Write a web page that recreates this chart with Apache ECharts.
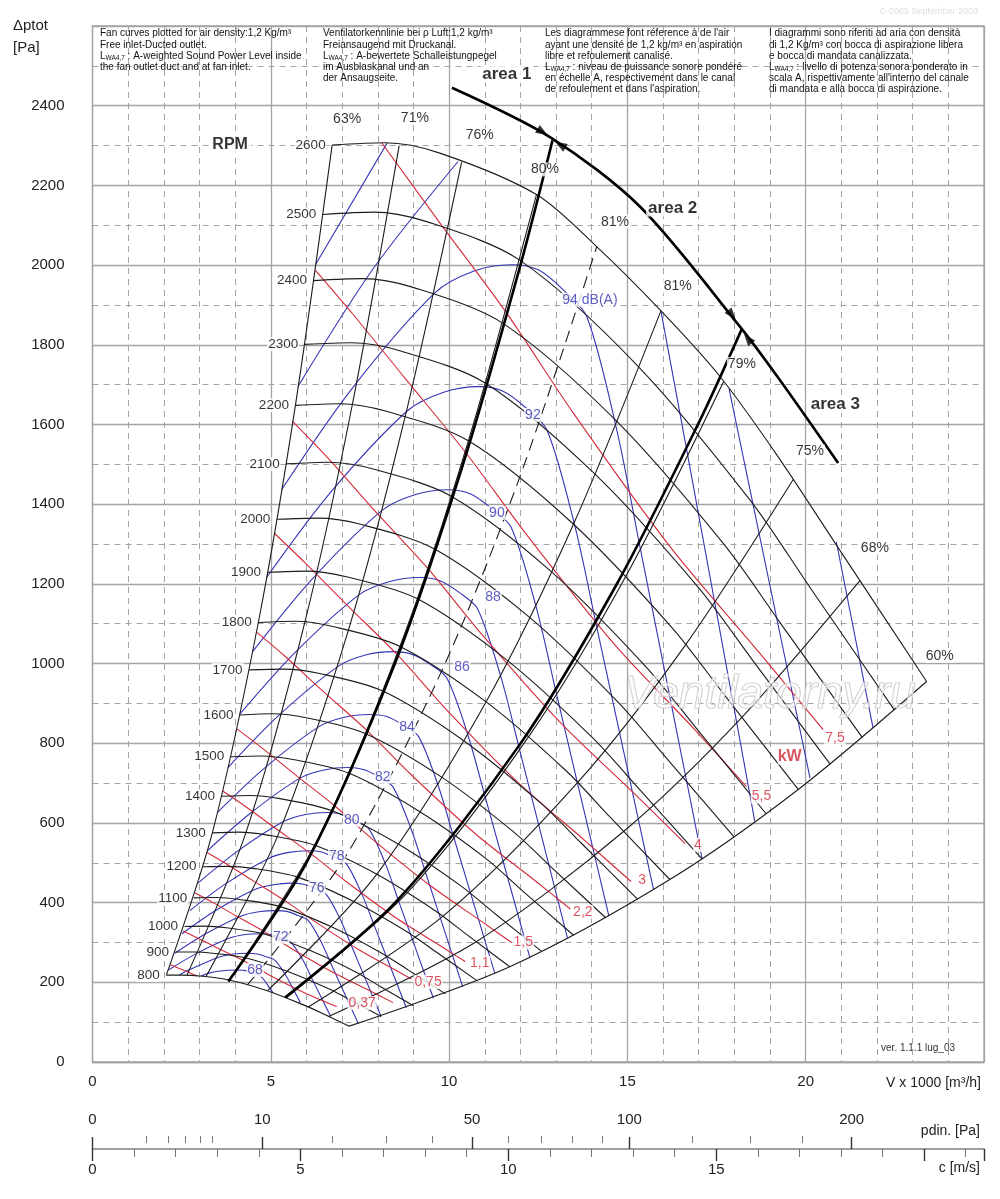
<!DOCTYPE html>
<html><head><meta charset="utf-8">
<script src="https://cdn.jsdelivr.net/npm/echarts@6.0.0/dist/echarts.min.js"></script>
<style>html,body{margin:0;padding:0;background:#fff}#c{width:1000px;height:1199px}</style>
</head><body><div id="c"></div>
<script>
// ---------- axis tick data ----------
const xMax = 25, yMax = 2600;
const cMax = 21.44;                       // c [m/s] at V = 25000 m3/h
const pdinMajor = [0, 10, 50, 100, 200];
const pdinMinor = [1, 2, 3, 4, 5, 20, 30, 40, 60, 70, 80, 90, 125, 150, 175];

// ---------- fan curves (RPM) ----------
const rpmLabels = [800,900,1000,1100,1200,1300,1400,1500,1600,1700,1800,1900,2000,2100,2200,2300,2400,2500,2600];
const rpmCurves = [
 [[2.07,218],[2.52,218],[3.00,216],[3.83,206],[4.90,179],[5.90,144],[6.45,122],[7.20,90]],
 [[2.33,276],[2.84,276],[3.37,273],[4.31,261],[5.51,226],[6.64,183],[7.26,154],[8.10,114]],
 [[2.58,340],[3.15,341],[3.75,337],[4.79,322],[6.12,279],[7.38,226],[8.06,190],[9.00,141]],
 [[2.84,412],[3.47,413],[4.12,408],[5.27,390],[6.73,338],[8.11,273],[8.87,230],[9.90,171]],
 [[3.10,490],[3.78,491],[4.50,486],[5.75,464],[7.34,402],[8.85,325],[9.67,274],[10.80,203]],
 [[3.36,575],[4.10,577],[4.87,570],[6.23,544],[7.96,472],[9.59,381],[10.48,321],[11.70,239]],
 [[3.62,667],[4.42,669],[5.25,661],[6.70,631],[8.57,547],[10.33,442],[11.29,372],[12.60,277]],
 [[3.88,766],[4.73,768],[5.62,759],[7.18,725],[9.18,628],[11.07,508],[12.09,427],[13.49,318]],
 [[4.14,871],[5.05,874],[5.99,864],[7.66,824],[9.79,715],[11.80,578],[12.90,486],[14.39,362]],
 [[4.39,984],[5.36,986],[6.37,975],[8.14,931],[10.40,807],[12.54,652],[13.71,549],[15.29,408]],
 [[4.65,1103],[5.68,1106],[6.74,1093],[8.62,1043],[11.02,905],[13.28,731],[14.51,615],[16.19,458]],
 [[4.91,1229],[5.99,1232],[7.12,1218],[9.10,1163],[11.63,1008],[14.02,814],[15.32,686],[17.09,510]],
 [[5.17,1362],[6.31,1365],[7.49,1350],[9.58,1288],[12.24,1117],[14.75,902],[16.12,760],[17.99,565]],
 [[5.43,1501],[6.62,1505],[7.87,1488],[10.06,1420],[12.85,1232],[15.49,995],[16.93,838],[18.89,623]],
 [[5.69,1648],[6.94,1652],[8.24,1633],[10.54,1559],[13.46,1352],[16.23,1092],[17.74,919],[19.79,684]],
 [[5.95,1801],[7.25,1805],[8.62,1785],[11.01,1704],[14.07,1477],[16.97,1193],[18.54,1005],[20.69,747]],
 [[6.20,1961],[7.57,1966],[8.99,1944],[11.49,1855],[14.69,1609],[17.71,1299],[19.35,1094],[21.59,814]],
 [[6.46,2127],[7.89,2133],[9.37,2109],[11.97,2013],[15.30,1746],[18.44,1410],[20.15,1187],[22.49,883]],
 [[6.72,2301],[8.20,2307],[9.74,2281],[12.45,2177],[14.13,2047],[15.91,1888],[17.59,1721],[19.18,1525],[20.96,1284],[23.39,955]]
];

// ---------- efficiency lines ----------
const effLabels = ['63%','71%','76%','80%','81%','81%','79%','75%','68%','60%'];
const effLabelPos = [[7.14,2365],[9.04,2370],[10.86,2327],[12.69,2240],[14.65,2109],[16.41,1946],[18.21,1752],[20.12,1532],[21.94,1290],[23.76,1019]];
const effCurves = [
 [[2.07,218],[3.36,575],[4.65,1103],[5.69,1648],[6.72,2301]],
 [[2.65,218],[4.30,575],[5.95,1102],[7.28,1647],[8.60,2300]],
 [[3.18,214],[5.18,565],[7.17,1082],[8.76,1617],[10.35,2258]],
 [[3.83,206],[6.23,544],[8.62,1043],[10.54,1559],[12.45,2177]],
 [[4.35,194],[7.07,512],[9.79,981],[11.97,1465],[14.14,2046]],
 [[4.91,179],[7.97,471],[11.04,904],[13.49,1350],[15.94,1885]],
 [[5.45,162],[8.85,427],[12.25,819],[14.98,1223],[17.70,1708]],
 [[6.05,138],[9.83,366],[13.60,701],[16.63,1047],[19.65,1462]],
 [[6.62,114],[10.76,302],[14.90,579],[18.21,865],[21.52,1208]],
 [[7.20,90],[11.70,239],[16.19,458],[19.79,684],[23.39,955]]
];
const effDashed = [false,false,false,false,true,false,false,false,false,false];

// ---------- operating areas ----------
const area1Line = [[3.81,202],[6.00,500],[8.48,1000],[10.39,1500],[12.00,2000],[12.90,2313]];
const area23Line = [[5.40,162],[8.50,401],[12.00,799],[14.70,1199],[17.00,1604],[18.20,1838]];
const areaArc = [[10.08,2445],[12.85,2320],[15.35,2147],[18.15,1846],[19.27,1712],[20.91,1503]];
const areaArrows = [[12.62,2334,-121],[13.12,2302,59],[17.93,1875,-141],[18.38,1815,39]];
const areaLabels = [[11.62,2478,'area 1'],[16.27,2143,'area 2'],[20.83,1650,'area 3']];

// ---------- sound power level LwA (blue) ----------
const dbSegments = [
 [[20.86,1305],[21.89,838]],
 [[6.26,2002],[8.26,2306]],
 [[17.85,1690],[18.71,1319],[20.12,713]],
 [[5.76,1695],[7.88,1992],[10.25,2260]],
 [[15.94,1885],[16.68,1528],[18.57,605]],
 [[5.30,1436],[7.25,1687],[9.60,1930],[10.70,1985],[11.76,2001],[12.50,1988],[13.20,1938],[13.86,1871],[14.70,1587],[15.35,1294],[17.09,512]],
 [[4.88,1216],[6.67,1429],[8.84,1635],[9.85,1681],[10.82,1695],[11.50,1684],[12.15,1642],[12.75,1585],[13.53,1344],[14.13,1096],[15.73,434]],
 [[4.49,1030],[6.14,1210],[8.13,1385],[9.06,1424],[9.96,1436],[10.59,1426],[11.18,1390],[11.74,1342],[12.45,1139],[13.00,928],[14.48,367]],
 [[4.13,873],[5.65,1025],[7.48,1173],[8.34,1206],[9.17,1216],[9.74,1208],[10.29,1178],[10.80,1137],[11.46,964],[11.97,786],[13.32,311]],
 [[3.80,739],[5.20,868],[6.89,993],[7.68,1022],[8.44,1030],[8.97,1023],[9.47,998],[9.94,963],[10.54,817],[11.01,666],[12.26,264]],
 [[3.50,626],[4.79,735],[6.34,841],[7.06,865],[7.76,872],[8.25,867],[8.72,845],[9.15,816],[9.70,692],[10.13,564],[11.28,223]],
 [[3.22,530],[4.41,623],[5.83,713],[6.50,733],[7.15,739],[7.60,734],[8.02,716],[8.42,691],[8.93,586],[9.33,478],[10.38,189]],
 [[2.96,449],[4.05,528],[5.37,604],[5.98,621],[6.58,626],[6.99,622],[7.38,606],[7.75,585],[8.22,496],[8.58,405],[9.56,160]],
 [[2.73,380],[3.73,447],[4.94,511],[5.51,526],[6.05,530],[6.43,527],[6.79,513],[7.13,496],[7.56,420],[7.90,343],[8.80,136]],
 [[2.51,322],[3.43,379],[4.55,433],[5.07,445],[5.57,449],[5.92,446],[6.25,435],[6.56,420],[6.96,356],[7.27,290],[8.09,115]],
 [[2.31,273],[3.16,321],[4.19,367],[4.66,377],[5.13,380],[5.45,378],[5.75,368],[6.04,356],[6.41,302],[6.69,246],[7.45,97]],
 [[2.13,231],[2.91,272],[3.85,311],[4.29,320],[4.72,322],[5.01,320],[5.30,312],[5.56,301],[5.90,256],[6.16,208],[6.68,114]],
 [[2.43,218],[2.68,230],[3.54,263],[3.95,271],[4.34,273],[4.62,271],[4.87,264],[5.12,255],[5.43,216],[5.67,176],[5.83,149]],
 [[3.04,215],[3.26,223],[3.64,229],[4.00,231],[4.25,230],[4.49,224],[4.71,216],[4.99,183],[5.06,174]]
];
const dbLabels = ['94 dB(A)','92','90','88','86','84','82','80','78','76','72','68'];
const dbLabelPos = [[13.95,1913],[12.35,1624],[11.34,1378],[11.23,1167],[10.36,992],[8.82,841],[8.14,716],[7.27,608],[6.85,517],[6.29,437],[5.28,314],[4.56,231]];

// ---------- shaft power (red) ----------
const kwCurves = [
 [[8.11,2307],[9.74,2106],[11.61,1880],[13.48,1629],[16.19,1294],[18.71,1026],[20.49,834]],
 [[6.24,1988],[7.31,1876],[8.79,1713],[10.47,1529],[12.16,1325],[14.60,1052],[16.88,835],[18.34,691]],
 [[5.61,1608],[6.58,1518],[7.90,1385],[9.42,1237],[10.93,1072],[13.13,851],[15.18,675],[16.62,548]],
 [[5.10,1327],[5.97,1252],[7.18,1143],[8.56,1021],[9.93,884],[11.93,702],[13.79,557],[15.10,453]],
 [[4.60,1079],[5.39,1019],[6.47,930],[7.72,830],[8.96,719],[10.76,571],[12.44,453],[13.40,384]],
 [[4.05,836],[4.74,789],[5.70,720],[6.79,643],[7.88,557],[9.47,443],[10.94,351],[11.75,300]],
 [[3.65,680],[4.28,642],[5.14,586],[6.12,523],[7.11,453],[8.54,360],[9.87,285],[10.45,252]],
 [[3.21,526],[3.76,497],[4.52,454],[5.39,405],[6.26,351],[7.52,279],[8.69,221],[8.95,208]],
 [[2.88,424],[3.38,400],[4.06,365],[4.84,326],[5.61,283],[6.74,225],[7.79,178],[8.43,149]],
 [[2.54,329],[2.97,310],[3.57,283],[4.26,253],[4.94,219],[5.94,174],[6.85,139]],
 [[2.19,244],[2.56,230],[2.94,216]]
];
const kwLabels = ['7,5','5,5','4','3','2,2','1,5','1,1','0,75','0,37'];
const kwLabelPos = [[20.82,813],[18.76,666],[16.98,545],[15.41,457],[13.75,377],[12.08,300],[10.86,249],[9.41,201],[7.56,148]];

// ---------- build ----------
const FONT = '"Liberation Sans", Arial, Helvetica, sans-serif';
const BLACK = '#1c1c1c', BLUE = '#3535b4', RED = '#d42a3a', GRID = '#a4a4a4';

function lineS(data, color, width, z, extra) {
  return Object.assign({
    type: 'line', data: data, symbol: 'none', showSymbol: false,
    smooth: 0.3, silent: true, animation: false, z: z,
    lineStyle: { color: color, width: width }
  }, extra || {});
}
function textS(items, style, z) {
  return {
    type: 'scatter', silent: true, animation: false, z: z || 20,
    symbol: 'circle', symbolSize: 1, itemStyle: { color: 'rgba(0,0,0,0)' },
    data: items.map(d => ({ value: [d[0], d[1]], name: d[2] })),
    label: Object.assign({ show: true, position: 'inside', formatter: p => p.name, fontFamily: FONT }, style)
  };
}

const series = [];
dbSegments.forEach(s => series.push(lineS(s, BLUE, 1.1, 3)));
kwCurves.forEach(s => series.push(lineS(s, RED, 1.1, 4)));
rpmCurves.forEach(s => series.push(lineS(s, BLACK, 1.1, 5)));
effCurves.forEach((s, i) => series.push(lineS(s, BLACK, 1.1, 5,
  effDashed[i] ? { lineStyle: { color: BLACK, width: 1.1, type: [12, 7] } } : {})));
series.push(lineS(area1Line, '#000', 2.6, 6));
series.push(lineS(area23Line, '#000', 2.6, 6));
series.push(lineS(areaArc, '#000', 2.6, 6));
series.push({
  type: 'scatter', silent: true, animation: false, z: 7, symbol: 'triangle',
  data: areaArrows.map(a => ({ value: [a[0], a[1]], symbolRotate: a[2] })),
  symbolSize: [9, 12], itemStyle: { color: '#000' }
});

// labels
series.push(textS(rpmCurves.map((c, i) => [c[0][0], c[0][1], String(rpmLabels[i])]),
  { position: 'left', distance: 5, fontSize: 13.5, color: '#000', backgroundColor: '#fff', padding: [0, 1] }));
series.push(textS(effLabelPos.map((p, i) => [p[0], p[1], effLabels[i]]),
  { fontSize: 14, color: '#000', backgroundColor: '#fff', padding: [0, 1] }));
series.push(textS(dbLabelPos.map((p, i) => [p[0], p[1], dbLabels[i]]),
  { fontSize: 14, color: BLUE, backgroundColor: '#fff', padding: [0, 1] }));
series.push(textS(kwLabelPos.map((p, i) => [p[0], p[1], kwLabels[i]]),
  { fontSize: 14, color: RED, backgroundColor: '#fff', padding: [0, 1] }));
series.push(textS([[19.55, 766, 'kW']], { fontSize: 16, fontWeight: 'bold', color: RED, backgroundColor: '#fff' }));
series.push(textS([[3.86, 2302, 'RPM']], { fontSize: 16, fontWeight: 'bold', color: '#000', backgroundColor: '#fff', padding: [0, 3] }));
series.push(textS(areaLabels, { fontSize: 17, fontWeight: 'bold', color: '#000', backgroundColor: '#fff', padding: [0, 2] }));

const cPos = p => Math.sqrt(2 * p / 1.2);
const axisTxt = { fontFamily: FONT, fontSize: 15, color: '#222' };

const topTextRich = {
  t: { fontSize: 10, fontFamily: FONT, fill: '#111', lineHeight: 11.2 },
  s: { fontSize: 6.5, fontFamily: FONT, fill: '#111', lineHeight: 11.2, verticalAlign: 'bottom' }
};
function block(x, lines) {
  return { type: 'text', x: x, y: 28, z: 50, silent: true,
    style: { text: lines.join('\n'), rich: topTextRich, align: 'left', verticalAlign: 'top', fontSize: 10, fontFamily: FONT, fill: '#111', lineHeight: 11.2 } };
}
const L = '{t|L}{s|WA4,7}';

const option = {
  animation: false,
  backgroundColor: '#fff',
  grid: [
    { left: 92.5, right: 16, top: 26, bottom: 137, show: true, borderColor: GRID, borderWidth: 1.3 },
    { left: 92.5, right: 16, top: 1143, height: 6 }
  ],
  xAxis: [
    { type: 'value', gridIndex: 0, min: 0, max: xMax, interval: 5,
      axisLine: { show: true, lineStyle: { color: GRID, width: 1.3 } }, axisTick: { show: false },
      axisLabel: Object.assign({ margin: 12, formatter: v => v >= xMax ? '' : String(v) }, axisTxt),
      splitLine: { show: true, lineStyle: { color: GRID, width: 1.3 } },
      minorTick: { show: false, splitNumber: 5 },
      minorSplitLine: { show: true, lineStyle: { color: GRID, width: 1, type: [6, 5] } } },
    { type: 'value', gridIndex: 1, position: 'top', min: 0, max: cMax,
      axisLine: { show: true, lineStyle: { color: '#999', width: 1.5 } },
      axisTick: { show: true, customValues: pdinMajor.map(cPos), length: 12, lineStyle: { color: '#333', width: 1.4 } },
      axisLabel: Object.assign({ margin: 16, customValues: pdinMajor.map(cPos), formatter: v => String(Math.round(0.6 * v * v)) }, axisTxt),
      splitLine: { show: false } },
    { type: 'value', gridIndex: 1, position: 'top', min: 0, max: cMax,
      axisLine: { show: false },
      axisTick: { show: true, customValues: pdinMinor.map(cPos), length: 7, lineStyle: { color: '#777', width: 1 } },
      axisLabel: { show: false }, splitLine: { show: false } },
    { type: 'value', gridIndex: 1, position: 'bottom', min: 0, max: cMax, interval: 5,
      axisLine: { show: true, lineStyle: { color: '#999', width: 1.5 } },
      axisTick: { show: true, length: 12, lineStyle: { color: '#333', width: 1.4 } },
      minorTick: { show: true, splitNumber: 5, length: 8, lineStyle: { color: '#777', width: 1 } },
      axisLabel: Object.assign({ margin: 13, formatter: v => v >= 20 ? '' : String(v) }, axisTxt),
      splitLine: { show: false } }
  ],
  yAxis: [
    { type: 'value', gridIndex: 0, min: 0, max: yMax, interval: 200,
      axisLine: { show: false }, axisTick: { show: false },
      axisLabel: Object.assign({ margin: 28, formatter: v => v >= yMax ? '' : String(v) }, axisTxt),
      splitLine: { show: true, lineStyle: { color: GRID, width: 1.3 } },
      minorTick: { show: false, splitNumber: 2 },
      minorSplitLine: { show: true, lineStyle: { color: GRID, width: 1, type: [6, 5] } } },
    { type: 'value', gridIndex: 1, min: 0, max: 1, show: false }
  ],
  graphic: [
    { type: 'text', x: 13, y: 26, silent: true, style: { text: 'Δptot', fontSize: 15, fontFamily: FONT, fill: '#222', align: 'left', verticalAlign: 'middle' } },
    { type: 'text', x: 13, y: 48, silent: true, style: { text: '[Pa]', fontSize: 15, fontFamily: FONT, fill: '#222', align: 'left', verticalAlign: 'middle' } },
    { type: 'text', x: 981, y: 1083, silent: true, style: { text: 'V x 1000 [m³/h]', fontSize: 14, fontFamily: FONT, fill: '#222', align: 'right', verticalAlign: 'middle' } },
    { type: 'text', x: 980, y: 1131, silent: true, style: { text: 'pdin. [Pa]', fontSize: 14, fontFamily: FONT, fill: '#222', align: 'right', verticalAlign: 'middle' } },
    { type: 'text', x: 980, y: 1168, silent: true, style: { text: 'c [m/s]', fontSize: 14, fontFamily: FONT, fill: '#222', align: 'right', verticalAlign: 'middle' } },
    { type: 'text', x: 955, y: 1048, silent: true, style: { text: 'ver. 1.1.1 lug_03', fontSize: 10, fontFamily: FONT, fill: '#333', align: 'right', verticalAlign: 'middle' } },
    { type: 'text', x: 978, y: 12, silent: true, style: { text: 'C-0085 September 2003', fontSize: 9, fontFamily: FONT, fill: '#dedede', align: 'right', verticalAlign: 'middle' } },
    { type: 'text', x: 770, y: 695, z: 60, silent: true, style: { text: 'Ventilatorny.ru', font: 'italic 46px ' + FONT, fill: 'rgba(255,255,255,0.55)', stroke: '#c4c4c4', lineWidth: 1.2, align: 'center', verticalAlign: 'middle' } },
    block(100, ['{t|Fan curves plotted for air density:1,2 Kg/m³}', '{t|Free inlet-Ducted outlet.}', L + '{t| : A-weighted Sound Power Level inside}', '{t|the fan outlet duct and at fan inlet.}']),
    block(323, ['{t|Ventilatorkennlinie bei ρ Luft:1,2 kg/m³}', '{t|Freiansaugend mit Druckanal.}', L + '{t| : A-bewertete Schalleistungpegel}', '{t|im Ausblaskanal und an}', '{t|der Ansaugseite.}']),
    block(545, ['{t|Les diagrammese font réference à de l\'air}', '{t|ayant une densité de 1,2 kg/m³ en aspiration}', '{t|libre et refoulement canalisé.}', L + '{t| : niveau de puissance sonore pondéré}', '{t|en échelle A, respectivement dans le canal}', '{t|de refoulement et dans l\'aspiration.}']),
    block(769, ['{t|I diagrammi sono riferiti ad aria con densità}', '{t|di 1,2 Kg/m³ con bocca di aspirazione libera}', '{t|e bocca di mandata canalizzata.}', L + '{t| : livello di potenza sonora ponderato in}', '{t|scala A, rispettivamente all\'interno del canale}', '{t|di mandata e alla bocca di aspirazione.}'])
  ],
  series: series
};
option.series.forEach(s => { s.xAxisIndex = 0; s.yAxisIndex = 0; });

const chart = echarts.init(document.getElementById('c'), null, { renderer: 'canvas' });
chart.setOption(option);
</script></body></html>
